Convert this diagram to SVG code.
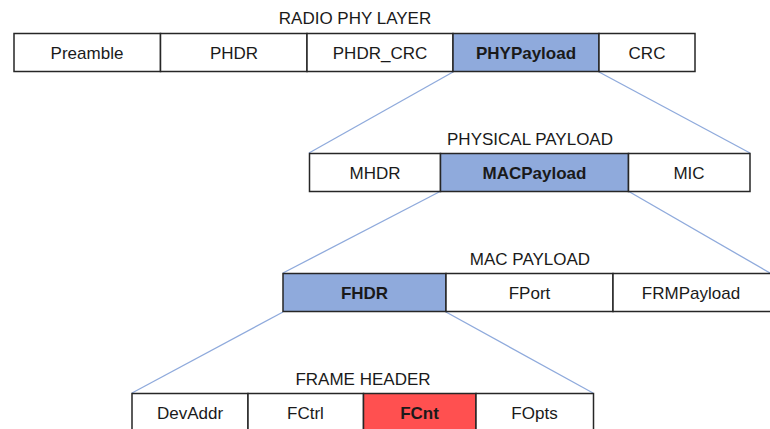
<svg xmlns="http://www.w3.org/2000/svg" width="770" height="429" viewBox="0 0 770 429">
<style>
.cell{fill:#ffffff;stroke:#262626;stroke-width:1.5}
.blue{fill:#8faadc}
.red{fill:#ff5050}
text{font-family:"Liberation Sans",Arial,sans-serif;font-size:17px;fill:#1a1a1a;text-anchor:middle}
.b{font-weight:bold}
.conn line{stroke:#8faadc;stroke-width:1.3}
</style>
<rect width="770" height="429" fill="#ffffff"/>
<g class="conn" id="connectors">
<line x1="453" y1="72" x2="309" y2="153"/>
<line x1="599" y1="72" x2="750" y2="153"/>
<line x1="441" y1="191" x2="283" y2="273"/>
<line x1="628" y1="191" x2="770" y2="273"/>
<line x1="283" y1="312" x2="132" y2="393"/>
<line x1="446" y1="312" x2="593" y2="393"/>
</g>
<g id="radio-phy-layer">
<text x="355" y="24">RADIO PHY LAYER</text>
<g id="preamble"><rect class="cell" x="14" y="33.5" width="146.5" height="38"/><text x="87" y="58.5">Preamble</text></g>
<g id="phdr"><rect class="cell" x="160.5" y="33.5" width="146.5" height="38"/><text x="234" y="58.5">PHDR</text></g>
<g id="phdr-crc"><rect class="cell" x="307" y="33.5" width="146" height="38"/><text x="380" y="58.5">PHDR_CRC</text></g>
<g id="phypayload"><rect class="cell blue" x="453" y="33.5" width="146" height="38"/><text class="b" x="526" y="58.5">PHYPayload</text></g>
<g id="crc"><rect class="cell" x="599" y="33.5" width="96" height="38"/><text x="647" y="58.5">CRC</text></g>
</g>
<g id="physical-payload">
<text x="530" y="145">PHYSICAL PAYLOAD</text>
<g id="mhdr"><rect class="cell" x="309.5" y="153.5" width="131" height="38"/><text x="375" y="178.5">MHDR</text></g>
<g id="macpayload"><rect class="cell blue" x="440.5" y="153.5" width="188" height="38"/><text class="b" x="534.5" y="178.5">MACPayload</text></g>
<g id="mic"><rect class="cell" x="628.5" y="153.5" width="121.5" height="38"/><text x="689" y="178.5">MIC</text></g>
</g>
<g id="mac-payload">
<text x="530" y="265">MAC PAYLOAD</text>
<g id="fhdr"><rect class="cell blue" x="283" y="273.5" width="163" height="38"/><text class="b" x="364.5" y="298.5">FHDR</text></g>
<g id="fport"><rect class="cell" x="446" y="273.5" width="167" height="38"/><text x="529.5" y="298.5">FPort</text></g>
<g id="frmpayload"><rect class="cell" x="613" y="273.5" width="160" height="38"/><text x="691" y="298.5">FRMPayload</text></g>
</g>
<g id="frame-header">
<text x="363" y="385">FRAME HEADER</text>
<g id="devaddr"><rect class="cell" x="132" y="393.5" width="116" height="40"/><text x="190" y="418.5">DevAddr</text></g>
<g id="fctrl"><rect class="cell" x="248" y="393.5" width="115.5" height="40"/><text x="305.5" y="418.5">FCtrl</text></g>
<g id="fcnt"><rect class="cell red" x="363.5" y="393.5" width="112.5" height="40"/><text class="b" x="419.5" y="418.5">FCnt</text></g>
<g id="fopts"><rect class="cell" x="476" y="393.5" width="117.5" height="40"/><text x="534.5" y="418.5">FOpts</text></g>
</g>
</svg>
